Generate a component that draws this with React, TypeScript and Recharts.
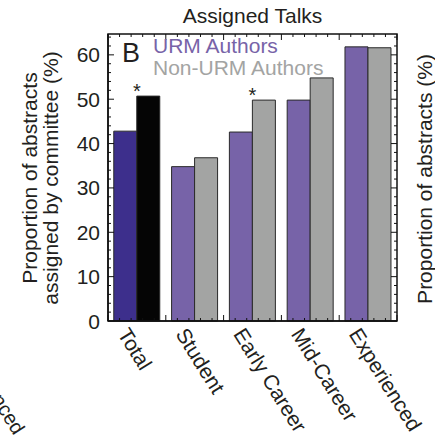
import React from "react";
import { BarChart, Bar, XAxis, YAxis, Cell, LabelList } from "recharts";

const categories = ["Total", "Student", "Early Career", "Mid-Career", "Experienced"];
const urmValues = [42.8, 34.8, 42.6, 49.8, 61.8];
const nonUrmValues = [50.7, 36.8, 49.8, 54.8, 61.6];
const significance = ["*", "", "*", "", ""];
const yLabelTicks = [0, 10, 20, 30, 40, 50, 60];
// frame ticks every 2 units, labelled every 10
const yFrameTicks = Array.from({ length: 33 }, (_, i) => i * 2);
const Y_MAX = 64.7;

const data = categories.map((name, i) => ({
  name,
  urm: urmValues[i],
  nonUrm: nonUrmValues[i],
  sig: significance[i],
}));

const FONT = "'Liberation Sans', Arial, Helvetica, sans-serif";
const TEXT = "#231f20";
const URM = "#7763a8";
const NON_URM = "#a3a4a3";
const TOTAL_URM = "#3d2f8c";
const TOTAL_NON = "#050505";
const FRAME = "#111";

const W = 435;
const H = 443;
// plot box
const PLOT = { left: 108, right: 397, top: 34, bottom: 321 };
const BAND = (PLOT.right - PLOT.left) / categories.length;

const LeftTick = (props: any) => {
  const { x, y, payload } = props;
  const major = payload.value % 10 === 0;
  const len = major ? 6 : 3;
  return (
    <g>
      <line x1={x} y1={y} x2={x + len} y2={y} stroke={FRAME} strokeWidth={1} />
      <line x1={PLOT.right} y1={y} x2={PLOT.right - len} y2={y} stroke={FRAME} strokeWidth={1} />
      {yLabelTicks.includes(payload.value) && (
        <text x={x - 8} y={y} dy="0.36em" textAnchor="end" fontSize={21} fontFamily={FONT} fill={TEXT}>
          {payload.value}
        </text>
      )}
    </g>
  );
};

const CategoryTick = (props: any) => {
  const { x, y, payload, index } = props;
  const ax = x - 7;
  const ay = y + 5;
  const offsets = [-0.5, -0.3, -0.1, 0.1, 0.3];
  if (index === categories.length - 1) offsets.push(0.5);
  return (
    <g>
      {offsets.map((f) => {
        const tx = x + f * BAND;
        const len = Math.abs(f) === 0.5 ? 6 : 3;
        return (
          <g key={f}>
            <line x1={tx} y1={y} x2={tx} y2={y - len} stroke={FRAME} strokeWidth={1} />
            <line x1={tx} y1={PLOT.top} x2={tx} y2={PLOT.top + len} stroke={FRAME} strokeWidth={1} />
          </g>
        );
      })}
      <text
        x={ax}
        y={ay}
        dy="0.72em"
        transform={`rotate(58, ${ax}, ${ay})`}
        textAnchor="start"
        fontSize={21}
        fontFamily={FONT}
        fill={TEXT}
      >
        {payload.value}
      </text>
    </g>
  );
};

const StarLabel = (props: any) => {
  const { x, y, value } = props;
  if (!value) return null;
  return (
    <text x={x} y={y + 2} textAnchor="middle" fontSize={20} fontFamily={FONT} fill={TEXT}>
      {value}
    </text>
  );
};

const App: React.FC = () => {
  return (
    <div style={{ position: "absolute", left: 0, top: 0, width: W, height: H, background: "#fff" }}>
      <BarChart
        width={W}
        height={H}
        data={data}
        margin={{ top: PLOT.top, right: W - PLOT.right, left: PLOT.left - 60, bottom: H - PLOT.bottom - 30 }}
        barCategoryGap="10%"
        barGap={0}
      >
        <XAxis
          dataKey="name"
          height={30}
          tickLine={false}
          tickSize={0}
          tickMargin={0}
          interval={0}
          axisLine={{ stroke: FRAME, strokeWidth: 1.5 }}
          tick={<CategoryTick />}
        />
        <YAxis
          type="number"
          domain={[0, Y_MAX]}
          ticks={yFrameTicks}
          width={60}
          interval={0}
          tickLine={false}
          tickSize={0}
          tickMargin={0}
          axisLine={{ stroke: FRAME, strokeWidth: 1.5 }}
          tick={<LeftTick />}
        />
        <Bar dataKey="urm" fill={URM} stroke="#2a2a2a" strokeWidth={1} isAnimationActive={false}>
          {data.map((d, i) => (
            <Cell key={d.name} fill={i === 0 ? TOTAL_URM : URM} />
          ))}
        </Bar>
        <Bar dataKey="nonUrm" fill={NON_URM} stroke="#2a2a2a" strokeWidth={1} isAnimationActive={false}>
          {data.map((d, i) => (
            <Cell key={d.name} fill={i === 0 ? TOTAL_NON : NON_URM} />
          ))}
          <LabelList dataKey="sig" content={<StarLabel />} />
        </Bar>
      </BarChart>

      <svg
        width={W}
        height={H}
        style={{ position: "absolute", left: 0, top: 0, pointerEvents: "none" }}
        fontFamily={FONT}
      >
        <rect
          x={PLOT.left}
          y={PLOT.top}
          width={PLOT.right - PLOT.left}
          height={PLOT.bottom - PLOT.top}
          fill="none"
          stroke={FRAME}
          strokeWidth={1.5}
        />
        <text x={252.5} y={23} textAnchor="middle" fontSize={21} fill={TEXT}>
          Assigned Talks
        </text>
        <text x={122} y={62} fontSize={27} fill={TEXT}>
          B
        </text>
        <text x={153} y={53} fontSize={21} fill={URM}>
          URM Authors
        </text>
        <text x={153} y={75} fontSize={21} fill={NON_URM}>
          Non-URM Authors
        </text>
        <text transform="translate(37, 178) rotate(-90)" textAnchor="middle" fontSize={21} fill={TEXT}>
          Proportion of abstracts
        </text>
        <text transform="translate(58, 178) rotate(-90)" textAnchor="middle" fontSize={21} fill={TEXT}>
          assigned by committee (%)
        </text>
        <text transform="translate(432, 179) rotate(-90)" textAnchor="middle" fontSize={21} fill={TEXT}>
          Proportion of abstracts (%)
        </text>
        <text transform="translate(14, 436) rotate(58)" textAnchor="end" fontSize={20} fill={TEXT}>
          Experienced
        </text>
      </svg>
    </div>
  );
};

export default App;
